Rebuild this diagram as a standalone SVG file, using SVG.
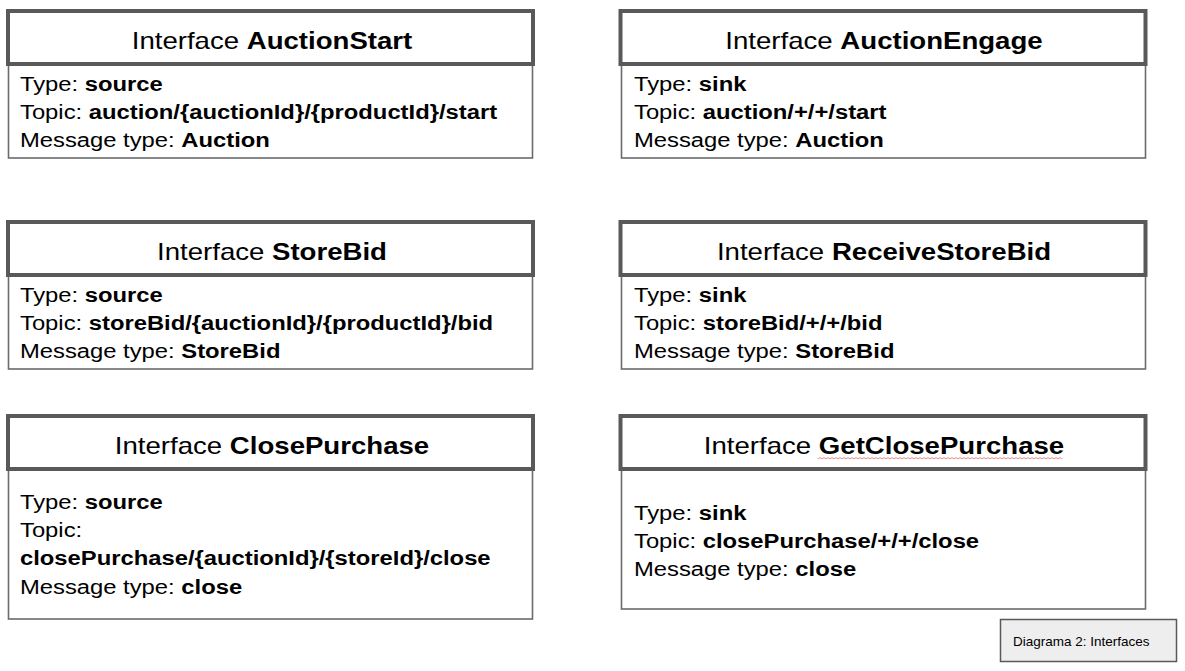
<svg xmlns="http://www.w3.org/2000/svg" width="1185" height="671" viewBox="0 0 1185 671">
<style>
.hdr{fill:#ffffff;stroke:#595959;stroke-width:4}
.body{fill:#ffffff;stroke:#6b6b6b;stroke-width:1.6}
.ht{font-family:"Liberation Sans",Arial,sans-serif;font-size:23px;fill:#000;text-anchor:middle}
.bt{font-family:"Liberation Sans",Arial,sans-serif;font-size:20px;fill:#000}
.b{font-weight:bold}
.cap{fill:#eeeeee;stroke:#595959;stroke-width:1.5}
.ct{font-family:"Liberation Sans",Arial,sans-serif;font-size:12.5px;fill:#000}
</style>
<rect width="1185" height="671" fill="#ffffff"/>
<g id="connectors"></g>

<g id="auctionStart">
<rect class="body" x="8.5" y="65" width="524" height="93"/>
<rect class="hdr" x="8" y="11" width="525" height="53"/>
<text class="ht" transform="translate(272,49) scale(1.2,1)">Interface <tspan class="b">AuctionStart</tspan></text>
<text class="bt" transform="translate(20,91) scale(1.19,1)">Type: <tspan class="b">source</tspan></text>
<text class="bt" transform="translate(20,119) scale(1.19,1)">Topic: <tspan class="b">auction/{auctionId}/{productId}/start</tspan></text>
<text class="bt" transform="translate(20,147) scale(1.19,1)">Message type: <tspan class="b">Auction</tspan></text>
</g>

<g id="auctionEngage">
<rect class="body" x="621.5" y="65" width="524" height="93"/>
<rect class="hdr" x="620.5" y="11" width="525" height="53"/>
<text class="ht" transform="translate(884,49) scale(1.2,1)">Interface <tspan class="b">AuctionEngage</tspan></text>
<text class="bt" transform="translate(634,91) scale(1.19,1)">Type: <tspan class="b">sink</tspan></text>
<text class="bt" transform="translate(634,119) scale(1.19,1)">Topic: <tspan class="b">auction/+/+/start</tspan></text>
<text class="bt" transform="translate(634,147) scale(1.19,1)">Message type: <tspan class="b">Auction</tspan></text>
</g>

<g id="storeBid">
<rect class="body" x="8.5" y="276" width="524" height="93"/>
<rect class="hdr" x="8" y="222" width="525" height="53"/>
<text class="ht" transform="translate(272,260) scale(1.2,1)">Interface <tspan class="b">StoreBid</tspan></text>
<text class="bt" transform="translate(20,302) scale(1.19,1)">Type: <tspan class="b">source</tspan></text>
<text class="bt" transform="translate(20,330) scale(1.19,1)">Topic: <tspan class="b">storeBid/{auctionId}/{productId}/bid</tspan></text>
<text class="bt" transform="translate(20,358) scale(1.19,1)">Message type: <tspan class="b">StoreBid</tspan></text>
</g>

<g id="receiveStoreBid">
<rect class="body" x="621.5" y="276" width="524" height="93"/>
<rect class="hdr" x="620.5" y="222" width="525" height="53"/>
<text class="ht" transform="translate(884,260) scale(1.2,1)">Interface <tspan class="b">ReceiveStoreBid</tspan></text>
<text class="bt" transform="translate(634,302) scale(1.19,1)">Type: <tspan class="b">sink</tspan></text>
<text class="bt" transform="translate(634,330) scale(1.19,1)">Topic: <tspan class="b">storeBid/+/+/bid</tspan></text>
<text class="bt" transform="translate(634,358) scale(1.19,1)">Message type: <tspan class="b">StoreBid</tspan></text>
</g>

<g id="closePurchase">
<rect class="body" x="8.5" y="469" width="524" height="150"/>
<rect class="hdr" x="8" y="416" width="525" height="53"/>
<text class="ht" transform="translate(272,454) scale(1.2,1)">Interface <tspan class="b">ClosePurchase</tspan></text>
<text class="bt" transform="translate(20,509) scale(1.19,1)">Type: <tspan class="b">source</tspan></text>
<text class="bt" transform="translate(20,537) scale(1.19,1)">Topic:</text>
<text class="bt b" transform="translate(20,565) scale(1.19,1)">closePurchase/{auctionId}/{storeId}/close</text>
<text class="bt" transform="translate(20,594) scale(1.19,1)">Message type: <tspan class="b">close</tspan></text>
</g>

<g id="getClosePurchase">
<rect class="body" x="621.5" y="469" width="524" height="140"/>
<rect class="hdr" x="620.5" y="416" width="525" height="53"/>
<text class="ht" transform="translate(884,454) scale(1.2,1)">Interface <tspan class="b">GetClosePurchase</tspan></text>
<path d="M818,459 l2,-1.5 l2,1.5 l2,-1.5 l2,1.5 l2,-1.5 l2,1.5 l2,-1.5 l2,1.5 l2,-1.5 l2,1.5 l2,-1.5 l2,1.5 l2,-1.5 l2,1.5 l2,-1.5 l2,1.5 l2,-1.5 l2,1.5 l2,-1.5 l2,1.5 l2,-1.5 l2,1.5 l2,-1.5 l2,1.5 l2,-1.5 l2,1.5 l2,-1.5 l2,1.5 l2,-1.5 l2,1.5 l2,-1.5 l2,1.5 l2,-1.5 l2,1.5 l2,-1.5 l2,1.5 l2,-1.5 l2,1.5 l2,-1.5 l2,1.5 l2,-1.5 l2,1.5 l2,-1.5 l2,1.5 l2,-1.5 l2,1.5 l2,-1.5 l2,1.5 l2,-1.5 l2,1.5 l2,-1.5 l2,1.5 l2,-1.5 l2,1.5 l2,-1.5 l2,1.5 l2,-1.5 l2,1.5 l2,-1.5 l2,1.5 l2,-1.5 l2,1.5 l2,-1.5 l2,1.5 l2,-1.5 l2,1.5 l2,-1.5 l2,1.5 l2,-1.5 l2,1.5 l2,-1.5 l2,1.5 l2,-1.5 l2,1.5 l2,-1.5 l2,1.5 l2,-1.5 l2,1.5 l2,-1.5 l2,1.5 l2,-1.5 l2,1.5 l2,-1.5 l2,1.5 l2,-1.5 l2,1.5 l2,-1.5 l2,1.5 l2,-1.5 l2,1.5 l2,-1.5 l2,1.5 l2,-1.5 l2,1.5 l2,-1.5 l2,1.5 l2,-1.5 l2,1.5 l2,-1.5 l2,1.5 l2,-1.5 l2,1.5 l2,-1.5 l2,1.5 l2,-1.5 l2,1.5 l2,-1.5 l2,1.5 l2,-1.5 l2,1.5 l2,-1.5 l2,1.5 l2,-1.5 l2,1.5 l2,-1.5 l2,1.5 l2,-1.5 l2,1.5 l2,-1.5 l2,1.5 l2,-1.5 l2,1.5" fill="none" stroke="#e06666" stroke-width="0.8"/>
<text class="bt" transform="translate(634,520) scale(1.19,1)">Type: <tspan class="b">sink</tspan></text>
<text class="bt" transform="translate(634,548) scale(1.19,1)">Topic: <tspan class="b">closePurchase/+/+/close</tspan></text>
<text class="bt" transform="translate(634,576) scale(1.19,1)">Message type: <tspan class="b">close</tspan></text>
</g>

<g id="caption">
<rect class="cap" x="1000.5" y="619.5" width="176" height="42"/>
<text class="ct" transform="translate(1013,646) scale(1.08,1)">Diagrama 2: Interfaces</text>
</g>
</svg>
